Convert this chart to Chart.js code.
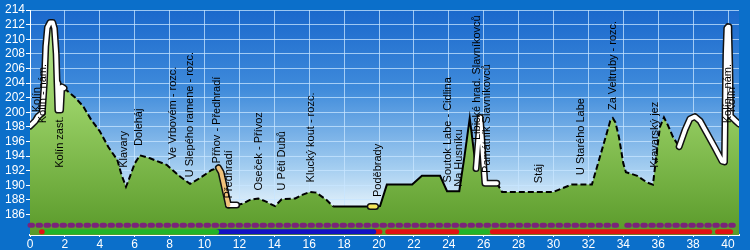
<!DOCTYPE html>
<html><head><meta charset="utf-8">
<script src="https://cdn.jsdelivr.net/npm/chart.js@4.4.1/dist/chart.umd.min.js"></script>
<style>html,body{margin:0;padding:0;background:#0b6fca;overflow:hidden}</style>
</head><body>
<canvas id="c" width="750" height="250"></canvas>
<script>
// ---------- DATA ----------
const distanceKm = [0,0.3,0.45,0.7,0.82,0.9,1.0,1.15,1.3,1.4,1.5,1.55,1.6,1.75,1.82,1.95,
  2.6,3.05,3.5,4.0,4.5,5.0,5.25,5.5,5.62,6.0,6.3,6.88,7.83,8.6,9.17,9.74,10.41,10.8,10.95,11.37,11.84,
  12.2,12.6,13.08,13.5,14.04,14.42,15.2,15.6,16.05,16.4,17.0,17.37,19.5,19.8,20.06,20.45,21.9,22.46,23.5,23.9,24.6,24.9,25.2,25.56,25.8,26.07,26.75,27.05,
  30.0,30.5,31.05,32.2,32.66,33.06,33.25,33.4,33.55,33.75,34.0,34.15,34.8,35.35,35.7,35.93,36.1,36.33,36.56,36.85,37.2,37.54,37.82,38.1,38.4,38.8,39.26,39.66,39.8,39.88,39.93,40.0,40.05,40.1,40.14,40.4,40.63];
const elevationM = [198.1,198.8,199.4,199.9,204,209,211.6,212.3,212.3,211.5,208,204,200.3,200.3,203.5,203.3,
  202.0,200.8,199.0,197.4,195.2,193.5,191.4,189.8,190.5,193.0,194.1,193.7,192.8,191.2,190.2,191.0,192.1,192.4,191.8,187.3,187.3,
  187.5,188.0,188.2,187.8,187.15,188.1,188.2,188.7,189.1,189.0,188.0,187.1,187.1,187.1,187.15,190.1,190.1,191.3,191.3,189.2,189.2,194.0,199.2,192.3,199.3,190.3,190.3,189.1,
  189.1,189.6,190.1,190.1,193.9,197.2,198.8,199.2,198.6,196.6,193.0,191.8,191.3,190.4,190.1,194.8,198.0,199.3,198.2,196.6,195.3,197.6,199.1,199.4,198.8,197.1,195.1,193.3,193.2,208,211.5,211.7,211.0,206,199.5,198.9,198.4];

// line style segments along the route (km from, km to, kind)
const segFromKm = [0, 1.95, 10.8, 11.37, 11.84, 17.37, 19.5, 19.8, 25.56, 26.75, 37.2];
const segToKm   = [1.95, 10.8, 11.37, 11.84, 17.37, 19.5, 19.8, 25.56, 26.75, 37.2, 40.63];
const segKind   = ['road','dashed','orange','road','dashed','solid','yellow','solid','road','dashed','road'];

// stop labels
const stopNames = ['Kolín','Kolín - nám.','Kolín zast.','Klavary','Doleháj','Ve Vrbovém - rozc.','U Slepého ramene - rozc.',
  'Přňov - Předhradí','Předhradí','Oseček - Přívoz','U Pěti Dubů','Klucký kout - rozc.','Poděbrady','Soutok Labe - Cidlina',
  'Na Husníku','Libické hrad. Slavníkovců','Památník Slavníkovců','Stáj','U Starého Labe','Za Veltruby - rozc.','Kravarský jez',
  'Kolín - nám.','Kolín'];
const stopKm   = [0.40,0.77,1.70,5.39,6.25,8.19,9.17,10.7,11.43,13.1,14.45,16.1,19.94,23.95,24.58,25.6,26.2,29.17,31.58,33.4,35.8,40.0,40.2];
const stopElev = [200.0,198.5,192.4,192.4,195.4,193.5,191.1,193.0,188.2,189.3,189.3,190.4,188.4,190.4,189.8,196.2,191.7,190.3,191.4,200.3,192.4,198.5,200.0];

// ticks
const xTickKm = [0,2,4,6,8,10,12,14,16,18,20,22,24,26,28,30,32,34,36,38,40];
const yTickM  = [186,188,190,192,194,196,198,200,202,204,206,208,210,212,214];

// marker rows under the profile
const dotRowFromKm = [0, 34.2];
const dotRowToKm   = [33.9, 40.5];
const trackFromKm = [0.66, 0.8, 10.75, 19.75, 20.5, 24.55, 25.45, 26.5, 39.4];
const trackToKm   = [0.70, 10.7, 19.7, 20.05, 24.45, 25.35, 26.2, 38.95, 40.15];
const trackType   = ['red','green','blue','red','red','green','green','red','red'];

// ---------- STYLE ----------
const X_MIN = 0, X_MAX = 40.63, Y_MIN = 183.2, Y_MAX = 214;
const DOT_ROW_LEVEL = 184.55, TRACK_ROW_LEVEL = 183.65;
const trackColors = {red:'#e01212', green:'#22b428', blue:'#1212c4'};
const OUTER_BG = '#0b6fca';

const profilePts = distanceKm.map((x,i)=>({x, y: elevationM[i]}));
const between = (a,b) => profilePts.filter(p => p.x >= a-1e-9 && p.x <= b+1e-9);

const datasets = [];
datasets.push({
  data: profilePts, borderWidth: 0, pointRadius: 0, fill: 'start', order: 20,
  backgroundColor: (ctx) => {
    const ca = ctx.chart.chartArea;
    if (!ca) return '#7cb342';
    const g = ctx.chart.ctx.createLinearGradient(0, ca.top, 0, ca.bottom);
    g.addColorStop(0, '#bdeb97');
    g.addColorStop(0.45, '#95cd62');
    g.addColorStop(1, '#5a9a2a');
    return g;
  }
});
segKind.forEach((k, i) => {
  const pts = between(segFromKm[i], segToKm[i]);
  if (k === 'dashed') {
    datasets.push({data: pts, borderColor:'#000', borderWidth:2, borderDash:[6,3], pointRadius:0, fill:false, order:8});
  } else if (k === 'solid') {
    datasets.push({data: pts, borderColor:'#000', borderWidth:2, pointRadius:0, fill:false, order:8});
  } else {
    const inner = k === 'road' ? '#ffffff' : (k === 'orange' ? '#f0c27a' : '#f4e65a');
    datasets.push({data: pts, borderColor:'#111', borderWidth:7, pointRadius:0, fill:false, order:7,
      borderJoinStyle:'round', borderCapStyle:'round'});
    datasets.push({data: pts, borderColor: inner, borderWidth:4, pointRadius:0, fill:false, order:6,
      borderJoinStyle:'round', borderCapStyle:'round'});
  }
});
dotRowFromKm.forEach((a, i) => {
  datasets.push({data:[{x:a,y:DOT_ROW_LEVEL},{x:dotRowToKm[i],y:DOT_ROW_LEVEL}], borderColor:'#7a237a',
    borderWidth:5, borderDash:[2.5,5.5], borderCapStyle:'round', pointRadius:0, fill:false, order:4, clip:false});
});
trackFromKm.forEach((a, i) => {
  datasets.push({data:[{x:a,y:TRACK_ROW_LEVEL},{x:trackToKm[i],y:TRACK_ROW_LEVEL}], borderColor:trackColors[trackType[i]],
    borderWidth:5, borderCapStyle:'round', pointRadius:0, fill:false, order:3, clip:false});
});

const bgPlugin = {
  id:'bg',
  beforeDraw(chart){
    const {ctx, chartArea:ca} = chart;
    ctx.save();
    ctx.fillStyle = OUTER_BG;
    ctx.fillRect(0,0,chart.width,chart.height);
    const g = ctx.createLinearGradient(0, ca.top, 0, ca.bottom);
    g.addColorStop(0, '#1a68cc');
    g.addColorStop(0.35, '#3f8bdb');
    g.addColorStop(0.7, '#a3cdf0');
    g.addColorStop(0.88, '#e4f2fb');
    g.addColorStop(1, '#f4faff');
    ctx.fillStyle = g;
    ctx.fillRect(ca.left, ca.top, ca.right-ca.left, ca.bottom-ca.top);
    ctx.restore();
  }
};
const labelPlugin = {
  id:'stops',
  afterDatasetsDraw(chart){
    const {ctx, scales:{x, y}} = chart;
    ctx.save();
    ctx.font = '11px "Liberation Sans", Arial, sans-serif';
    ctx.fillStyle = '#000';
    ctx.textAlign = 'left';
    ctx.textBaseline = 'middle';
    stopNames.forEach((n, i) => {
      ctx.save();
      ctx.translate(x.getPixelForValue(stopKm[i]), y.getPixelForValue(stopElev[i]));
      ctx.rotate(-Math.PI/2);
      ctx.fillText(n, 0, 0);
      ctx.restore();
    });
    ctx.restore();
  }
};

const tickFont = {family:'"Liberation Sans", Arial, sans-serif', size:12};
new Chart(document.getElementById('c'), {
  type:'line',
  data:{datasets},
  plugins:[bgPlugin, labelPlugin],
  options:{
    responsive:false, animation:false, devicePixelRatio:1,
    layout:{padding:{top:10, right:11, left:0, bottom:0}},
    plugins:{legend:{display:false}, tooltip:{enabled:false}},
    elements:{line:{tension:0}},
    scales:{
      x:{type:'linear', min:X_MIN, max:X_MAX,
        afterFit(s){ s.height = 15; },
        afterBuildTicks(s){ s.ticks = xTickKm.map(v=>({value:v})); },
        ticks:{color:'#fff', font:tickFont, padding:0, autoSkip:false, maxRotation:0},
        grid:{color:'rgba(200,230,255,0.75)', lineWidth:1, tickLength:2, tickColor:'#fff'},
        border:{color:'#fff', width:2}},
      y:{type:'linear', min:Y_MIN, max:Y_MAX,
        afterFit(s){ s.width = 30; },
        afterBuildTicks(s){ s.ticks = yTickM.map(v=>({value:v})); },
        ticks:{color:'#fff', font:tickFont, padding:1, autoSkip:false},
        grid:{color:'rgba(200,230,255,0.75)', lineWidth:1, tickLength:4, tickColor:'#fff'},
        border:{color:'#fff', width:1}}
    }
  }
});
</script>
</body></html>
